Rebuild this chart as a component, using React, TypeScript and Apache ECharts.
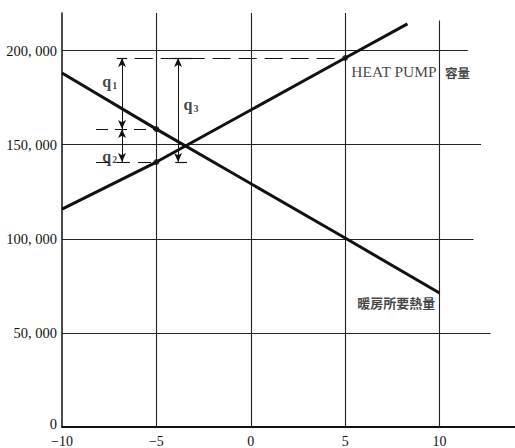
import React, { useEffect, useRef } from 'react';
import * as echarts from 'echarts';

// axis ticks
const xTicks = [-10, -5, 0, 5, 10];
const yTicks = [0, 50000, 100000, 150000, 200000];

// HEAT PUMP 容量 (capacity)
const heatPumpTemp = [-10, -5, 5, 8.3];
const heatPumpCapacity = [115800, 140800, 196100, 214200];

// 暖房所要熱量 (heating load)
const heatLoadTemp = [-10, -5, 5, 10];
const heatLoadValue = [188100, 158300, 100400, 71200];

// marked points: [HP @5, load @-5, HP @-5]
const markTemp = [5, -5, -5];
const markValue = [196100, 158300, 140800];

const seriesNames = ['HEAT PUMP', '容量', '暖房所要熱量'];
const qLetter = 'q';
const qSubs = ['1', '2', '3'];

const SERIF = '"Liberation Serif", "DejaVu Serif", serif';
const CJK = '"Noto Sans CJK JP", "Noto Sans CJK SC", sans-serif';
const INK = '#111';

function fmtY(v: number): string {
  if (v === 0) return '{z|0}';
  const th = Math.floor(v / 1000);
  const rest = String(v % 1000).padStart(3, '0');
  return th + ', ' + rest;
}

export default function App() {
  const ref = useRef<HTMLDivElement>(null);
  useEffect(() => {
    if (!ref.current) return;
    const chart = echarts.init(ref.current, null, { renderer: 'svg' });

    const yMax = 220000;
    const gridEnd: Record<number, number> = { 50000: 12.7, 100000: 11.8, 150000: 12.2, 200000: 11.5 };
    const vTop: Record<string, number> = { '-5': yMax, '0': yMax, '5': yMax, '10': 216000 };

    const hGrid = yTicks.filter((v) => v > 0).map((v) => [
      { coord: [-10, v] },
      { coord: [gridEnd[v], v] },
    ]);
    const vGrid = xTicks.filter((x) => x > -10).map((x) => [
      { coord: [x, 0] },
      { coord: [x, vTop[String(x)]] },
    ]);

    const [top, mid, bot] = [markValue[0], markValue[1], markValue[2]];
    const q12x = -6.82;
    const q3x = -3.85;

    const dashed = [
      [{ coord: [-6.15, top], lineStyle: { type: [18, 8] } }, { coord: [markTemp[0], top] }],
      [{ coord: [-8.2, mid], lineStyle: { type: [12, 7] } }, { coord: [markTemp[1], mid] }],
      [{ coord: [-8.2, bot], lineStyle: { type: [13, 8] } }, { coord: [markTemp[2], bot] }],
    ];
    const caps = [
      [{ coord: [-7.1, top] }, { coord: [-6.55, top] }],
      [{ coord: [-4.17, top] }, { coord: [-3.11, top] }],
      [{ coord: [-4.0, bot] }, { coord: [-3.38, bot] }],
    ];
    const arrows = [
      [{ coord: [q12x, top] }, { coord: [q12x, mid] }],
      [{ coord: [q12x, mid] }, { coord: [q12x, bot] }],
      [{ coord: [q3x, top] }, { coord: [q3x, bot] }],
    ];

    const helper = (name: string, data: any[], lineStyle: any, extra: any = {}) => ({
      name,
      type: 'line',
      data: [],
      silent: true,
      markLine: {
        silent: true,
        symbol: ['none', 'none'],
        label: { show: false },
        emphasis: { disabled: true },
        lineStyle,
        data,
        ...extra,
      },
    });

    const labelSeries = {
      type: 'scatter',
      silent: true,
      symbolSize: 1,
      itemStyle: { color: 'rgba(0,0,0,0)' },
      z: 10,
      label: {
        show: true,
        position: 'right',
        distance: 0,
        color: INK,
        formatter: (p: any) => p.data.text,
        rich: {
          lat: { fontFamily: SERIF, fontSize: 15.5, color: INK },
          cjk: { fontFamily: CJK, fontSize: 12.5, fontWeight: 'bold', color: INK, padding: [2, 0, 0, 8] },
          cjk2: { fontFamily: CJK, fontSize: 13, fontWeight: 'bold', color: INK },
          q: { fontFamily: SERIF, fontSize: 16, fontWeight: 'bold', color: INK },
          s: { fontFamily: SERIF, fontSize: 10, fontWeight: 'bold', color: INK, padding: [7, 0, 0, 1] },
        },
      },
      data: [
        { value: [5.3, 188800], text: `{lat|${seriesNames[0]}}{cjk|${seriesNames[1]}}` },
        { value: [5.61, 66000], text: `{cjk2|${seriesNames[2]}}` },
        { value: [-7.89, 183400], text: `{q|${qLetter}}{s|${qSubs[0]}}` },
        { value: [-7.89, 144000], text: `{q|${qLetter}}{s|${qSubs[1]}}` },
        { value: [-3.59, 171200], text: `{q|${qLetter}}{s|${qSubs[2]}}` },
      ],
    };

    chart.setOption({
      animation: false,
      backgroundColor: '#fff',
      grid: { left: 62, right: 0, top: 13, bottom: 21, containLabel: false },
      xAxis: {
        type: 'value',
        min: -10,
        max: 14,
        interval: 5,
        axisLine: { show: true, onZero: false, lineStyle: { color: INK, width: 1.8 } },
        axisTick: { show: false },
        splitLine: { show: false },
        axisLabel: {
          margin: 7,
          fontFamily: SERIF,
          fontSize: 14,
          color: INK,
          showMaxLabel: false,
          formatter: (v: number) => (xTicks.includes(v) ? (v < 0 ? '−' + -v : String(v)) : ''),
        },
      },
      yAxis: {
        type: 'value',
        min: 0,
        max: yMax,
        interval: 50000,
        axisLine: { show: true, onZero: false, lineStyle: { color: INK, width: 1.5 } },
        axisTick: { show: false },
        splitLine: { show: false },
        axisLabel: {
          margin: 5,
          fontFamily: SERIF,
          fontSize: 14.5,
          color: INK,
          showMaxLabel: false,
          formatter: (v: number) => (yTicks.includes(v) ? fmtY(v) : ''),
          rich: {
            z: { fontFamily: SERIF, fontSize: 14.5, color: INK, padding: [0, 0, 6, 0] },
          },
        },
      },
      series: [
        helper('hgrid', hGrid, { color: '#222', width: 1, type: 'solid' }),
        helper('vgrid', vGrid, { color: '#222', width: 1.1, type: 'solid' }),
        helper('dashed', dashed, { color: INK, width: 1.2 }),
        helper('caps', caps, { color: INK, width: 1.2, type: 'solid' }),
        helper('arrows', arrows, { color: INK, width: 1, type: 'solid' }, {
          symbol: ['arrow', 'arrow'],
          symbolSize: [6, 9],
        }),
        {
          name: seriesNames[0],
          type: 'line',
          data: heatPumpTemp.map((t, i) => [t, heatPumpCapacity[i]]),
          showSymbol: false,
          silent: true,
          lineStyle: { color: INK, width: 3 },
          z: 5,
        },
        {
          name: seriesNames[2],
          type: 'line',
          data: heatLoadTemp.map((t, i) => [t, heatLoadValue[i]]),
          showSymbol: false,
          silent: true,
          lineStyle: { color: INK, width: 3 },
          z: 5,
        },
        {
          type: 'scatter',
          silent: true,
          symbolSize: 6,
          itemStyle: { color: INK },
          data: markTemp.map((t, i) => [t, markValue[i]]),
          z: 6,
        },
        labelSeries,
      ],
    });
    return () => chart.dispose();
  }, []);
  return (
    <div
      ref={ref}
      style={{ position: 'absolute', left: 0, top: 0, width: 515, height: 448, background: '#fff' }}
    />
  );
}
